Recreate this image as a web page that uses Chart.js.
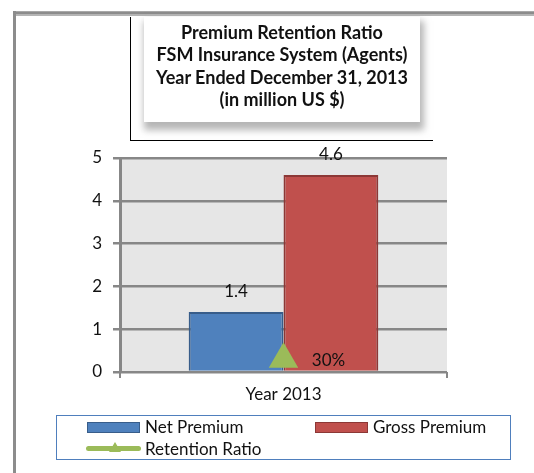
<!DOCTYPE html>
<html>
<head>
<meta charset="utf-8">
<script src="https://cdn.jsdelivr.net/npm/chart.js@4/dist/chart.umd.min.js"></script>
<style>
    body { margin: 0; background: #fff; width: 534px; height: 473px; overflow: hidden; font-family: Lato, "Open Sans", sans-serif; }
    #wrap { position: relative; width: 534px; height: 473px; }
    #frameTop { position: absolute; left: 13px; top: 11px; width: 521px; height: 2px; background: #8c8c8c; border-bottom: 2px solid #b4b4b4; border-top: 1px solid #a8a8a8; }
    #frameLeft { position: absolute; left: 13px; top: 11px; width: 3px; height: 462px; background: #8c8c8c; }
    #chart { position: absolute; left: 0; top: 0; }
    #titleLine { position: absolute; left: 130px; top: 17px; width: 302px; height: 123px; border-left: 1.5px solid #000; border-bottom: 1.5px solid #000; }
    #titleBox { position: absolute; left: 144px; top: 17px; width: 276px; height: 105px; background: #fff;
        box-shadow: 2px 6px 7px 2px rgba(120,120,120,0.55); text-align: center; font-weight: bold; font-size: 18px; line-height: 22.4px; color: #111; padding-top: 4px; box-sizing: border-box; white-space: nowrap; }
    #legend { position: absolute; left: 56px; top: 415px; width: 455px; height: 45px; border: 1.5px solid #4f7fbd; box-sizing: border-box; font-size: 17px; color: #111; }
    .item { position: absolute; height: 18px; line-height: 18px; }
    .sw { position: absolute; }
</style>
</head>
<body>
<div id="wrap">
    <canvas id="chart" width="534" height="473"></canvas>
    <div id="frameTop"></div>
    <div id="frameLeft"></div>
    <div id="titleLine"></div>
    <div id="titleBox"></div>
    <div id="legend"></div>
</div>
<script>
// data
const categories = ['Year 2013'];
const netPremium = [1.4];
const grossPremium = [4.6];
const retentionRatio = [0.3];
const retentionLabels = ['30%'];
const titleLines = ['Premium Retention Ratio', 'FSM Insurance System (Agents)', 'Year Ended December 31, 2013', '(in million US $)'];
const yTicks = [0, 1, 2, 3, 4, 5];

const colors = {
    net: '#4f81bd', netBorder: '#385d8a',
    gross: '#c0504d', grossBorder: '#8c3836',
    ratio: '#9bbb59',
    grid: '#878787', plot: '#e6e6e6'
};
const fontFamily = 'Lato, "Open Sans", sans-serif';

document.getElementById('titleBox').innerHTML = titleLines.join('<br>');

// legend
const legend = document.getElementById('legend');
legend.innerHTML =
    '<div class="sw" style="left:30px;top:6px;width:51px;height:9px;background:' + colors.net + ';border:1.5px solid ' + colors.netBorder + '"></div>' +
    '<div class="item" style="left:88px;top:2px">Net Premium</div>' +
    '<div class="sw" style="left:258px;top:6px;width:51px;height:9px;background:' + colors.gross + ';border:1.5px solid ' + colors.grossBorder + '"></div>' +
    '<div class="item" style="left:316px;top:2px">Gross Premium</div>' +
    '<div class="sw" style="left:29px;top:30px;width:55px;height:5px;border-radius:3px;background:' + colors.ratio + '"></div>' +
    '<div class="sw" style="left:52px;top:26px;width:0;height:0;border-left:6px solid transparent;border-right:6px solid transparent;border-bottom:10px solid ' + colors.ratio + '"></div>' +
    '<div class="item" style="left:88px;top:24px">Retention Ratio</div>';

const plotBackground = {
    id: 'plotBackground',
    beforeDraw(chart) {
        const { ctx, chartArea: a } = chart;
        ctx.save();
        ctx.fillStyle = colors.plot;
        ctx.fillRect(a.left, a.top, a.right - a.left, a.bottom - a.top);
        ctx.restore();
    }
};

const valueLabels = {
    id: 'valueLabels',
    afterDatasetsDraw(chart) {
        const ctx = chart.ctx;
        ctx.save();
        ctx.font = '17px ' + fontFamily;
        ctx.fillStyle = '#111';
        ctx.textAlign = 'center';
        ctx.textBaseline = 'middle';
        chart.data.datasets.forEach((ds, i) => {
            const meta = chart.getDatasetMeta(i);
            meta.data.forEach((el, j) => {
                if (ds.type === 'line') {
                    ctx.fillText(retentionLabels[j], el.x + 45, el.y + 1);
                } else {
                    ctx.fillText(ds.data[j].toFixed(1), el.x, el.y - 21);
                }
            });
        });
        ctx.restore();
    }
};

new Chart(document.getElementById('chart'), {
    type: 'bar',
    data: {
        labels: categories,
        datasets: [
            {
                label: 'Net Premium',
                data: netPremium,
                backgroundColor: colors.net,
                borderColor: colors.netBorder,
                borderWidth: 2,
                order: 2
            },
            {
                label: 'Gross Premium',
                data: grossPremium,
                backgroundColor: colors.gross,
                borderColor: colors.grossBorder,
                borderWidth: 2,
                order: 2
            },
            {
                type: 'line',
                label: 'Retention Ratio',
                data: retentionRatio,
                borderColor: colors.ratio,
                backgroundColor: colors.ratio,
                pointStyle: 'triangle',
                pointRadius: 17,
                pointBorderWidth: 0,
                order: 0
            }
        ]
    },
    options: {
        responsive: false,
        animation: false,
        categoryPercentage: 0.58,
        barPercentage: 1,
        layout: { padding: { left: 0, top: 158, right: 87, bottom: 0 } },
        plugins: {
            legend: { display: false },
            title: { display: false },
            tooltip: { enabled: false }
        },
        scales: {
            x: {
                afterFit(scale) { scale.height = 101; },
                grid: { offset: true, drawOnChartArea: false, tickLength: 6, color: colors.grid, lineWidth: 2 },
                border: { display: false },
                ticks: { color: '#111', font: { family: fontFamily, size: 17 }, padding: 6 }
            },
            y: {
                min: 0,
                max: 5,
                afterFit(scale) { scale.width = 120; },
                afterBuildTicks(scale) { scale.ticks = yTicks.map(v => ({ value: v })); },
                grid: { color: colors.grid, lineWidth: 2.5, tickLength: 7 },
                border: { color: colors.grid, width: 3 },
                ticks: { color: '#111', font: { family: fontFamily, size: 17 }, padding: 11 }
            }
        }
    },
    plugins: [plotBackground, valueLabels]
});
</script>
</body>
</html>
